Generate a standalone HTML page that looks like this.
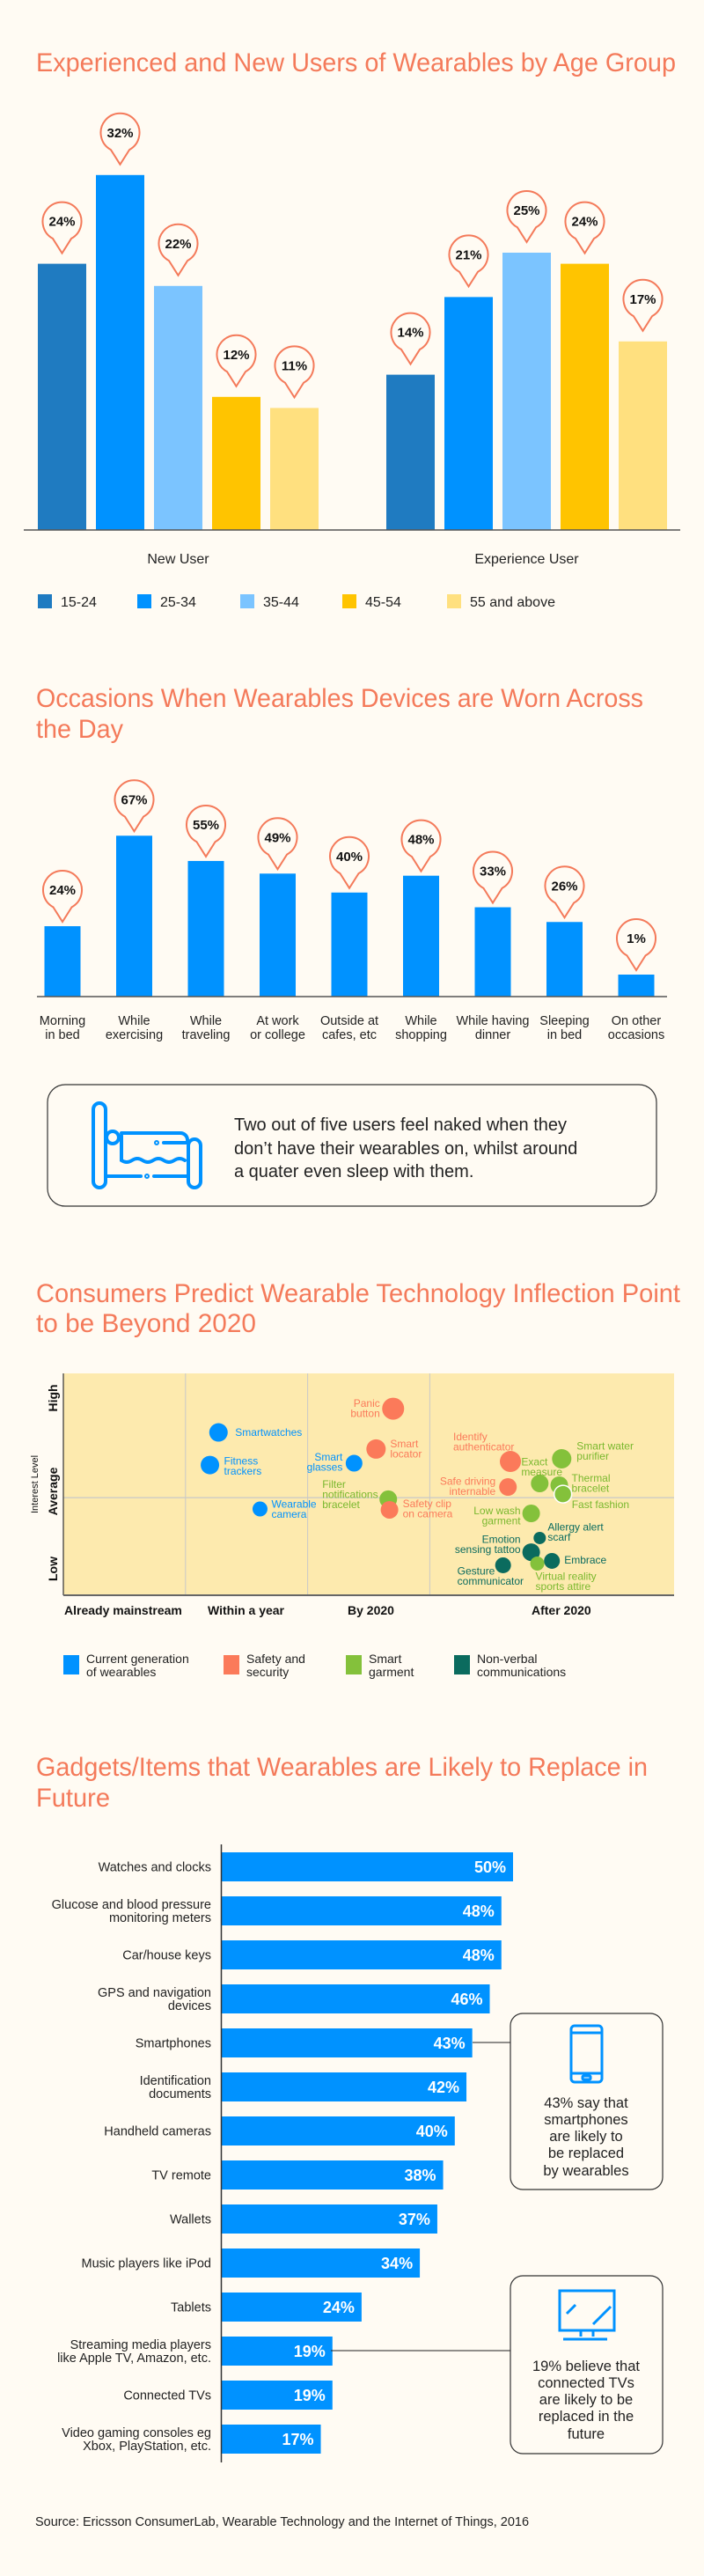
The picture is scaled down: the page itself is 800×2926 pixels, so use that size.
<!DOCTYPE html>
<html><head><meta charset="utf-8"><style>
html,body{margin:0;padding:0;background:#fffbf3;}
svg{display:block;font-family:"Liberation Sans",sans-serif;}
</style></head><body>
<svg id="root" width="800" height="2926" viewBox="0 0 800 2926" xmlns="http://www.w3.org/2000/svg">
<rect x="0" y="0" width="800" height="2926" fill="#fffbf3"/>
<g fill="#f47a5a" font-size="30">
<text x="41" y="81" textLength="727" lengthAdjust="spacingAndGlyphs">Experienced and New Users of Wearables by Age Group</text>
<text x="41" y="803" textLength="690" lengthAdjust="spacingAndGlyphs">Occasions When Wearables Devices are Worn Across</text>
<text x="41" y="838" textLength="99" lengthAdjust="spacingAndGlyphs">the Day</text>
<text x="41" y="1479" textLength="732" lengthAdjust="spacingAndGlyphs">Consumers Predict Wearable Technology Inflection Point</text>
<text x="41" y="1513" textLength="250" lengthAdjust="spacingAndGlyphs">to be Beyond 2020</text>
<text x="41" y="2017" textLength="695" lengthAdjust="spacingAndGlyphs">Gadgets/Items that Wearables are Likely to Replace in</text>
<text x="41" y="2052" textLength="84" lengthAdjust="spacingAndGlyphs">Future</text>
</g>
<g id="c1"></g>
<g id="c2"></g>
<g>
<rect x="54" y="1232" width="692" height="138" rx="20" fill="none" stroke="#333" stroke-width="1.2"/>
<g fill="none" stroke="#0092ff" stroke-width="4" stroke-linecap="round">
<rect x="106" y="1253" width="14" height="96" rx="7"/>
<rect x="214" y="1294" width="14" height="55" rx="7"/>
<circle cx="128" cy="1292" r="7"/>
<path d="M138 1287 H205 a8 8 0 0 1 8 8"/>
<path d="M138 1290 V1318 q6 4 12 0 t12 0 t12 0 t12 0 t12 0 t12 0"/>
<path d="M186 1298 H212"/><circle cx="178" cy="1298" r="1"/>
<path d="M122 1336 H160"/><circle cx="167" cy="1336" r="1"/><path d="M175 1336 H213"/>
</g>
<g font-size="20" fill="#222">
<text x="266" y="1284">Two out of five users feel naked when they</text>
<text x="266" y="1311">don’t have their wearables on, whilst around</text>
<text x="266" y="1337">a quater even sleep with them.</text>
</g>
</g>
<g id="c3"></g>
<g id="c4"></g>
<g>
<line x1="537" y1="2320" x2="580" y2="2320" stroke="#222" stroke-width="1"/>
<rect x="580" y="2287" width="173" height="200" rx="14" fill="none" stroke="#333" stroke-width="1.2"/>
<g fill="none" stroke="#0092ff" stroke-width="3">
<rect x="649" y="2301" width="35" height="64" rx="4"/><line x1="649" y1="2309" x2="684" y2="2309"/><line x1="649" y1="2355" x2="684" y2="2355"/><rect x="662" y="2358" width="9" height="4" rx="1"/>
</g>
<g font-size="16.5" fill="#222" text-anchor="middle">
<text x="666" y="2394">43% say that</text><text x="666" y="2413">smartphones</text><text x="666" y="2432">are likely to</text><text x="666" y="2451">be replaced</text><text x="666" y="2471">by wearables</text>
</g>
</g>
<g>
<line x1="376" y1="2670" x2="580" y2="2670" stroke="#222" stroke-width="1"/>
<rect x="580" y="2585" width="173" height="202" rx="14" fill="none" stroke="#333" stroke-width="1.2"/>
<g fill="none" stroke="#0092ff" stroke-width="3">
<rect x="636" y="2602" width="62" height="45"/><line x1="660" y1="2647" x2="660" y2="2654"/><line x1="674" y1="2647" x2="674" y2="2654"/><line x1="640" y1="2657" x2="690" y2="2657"/>
<line x1="644" y1="2628" x2="654" y2="2618"/><line x1="674" y1="2640" x2="694" y2="2620"/>
</g>
<g font-size="16.5" fill="#222" text-anchor="middle">
<text x="666" y="2693">19% believe that</text><text x="666" y="2712">connected TVs</text><text x="666" y="2731">are likely to be</text><text x="666" y="2750">replaced in the</text><text x="666" y="2770">future</text>
</g>
</g>
<text x="40" y="2869" font-size="14.5" fill="#222">Source: Ericsson ConsumerLab, Wearable Technology and the Internet of Things, 2016</text>
</svg>
<script>
const NS='http://www.w3.org/2000/svg';
function mk(parent,tag,attrs,txt){const e=document.createElementNS(NS,tag);for(const k in attrs)e.setAttribute(k,attrs[k]);if(txt!==undefined)e.textContent=txt;parent.appendChild(e);return e;}

/* ---------- Chart 1 data ---------- */
const c1Groups=['New User','Experience User'];
const c1Ages=['15-24','25-34','35-44','45-54','55 and above'];
const c1New=[24,32,22,12,11];
const c1Exp=[14,21,25,24,17];
const c1Colors=['#1f7bc1','#0092ff','#7bc4ff','#ffc400','#ffe07f'];

/* ---------- Chart 2 data ---------- */
const c2Cats=[['Morning','in bed'],['While','exercising'],['While','traveling'],['At work','or college'],['Outside at','cafes, etc'],['While','shopping'],['While having','dinner'],['Sleeping','in bed'],['On other','occasions']];
const c2Vals=[24,67,55,49,40,48,33,26,1];

/* ---------- Chart 3 data ---------- */
const c3XTicks=['Already mainstream','Within a year','By 2020','After 2020'];
const c3YTicks=['High','Average','Low'];
const c3Groups=['Current generation|of wearables','Safety and|security','Smart|garment','Non-verbal|communications'];
const c3Names=['Smartwatches','Fitness|trackers','Wearable|camera','Smart|glasses','Panic|button','Smart|locator','Filter|notifications|bracelet','Safety clip|on camera','Identify|authenticator','Safe driving|internable','Smart water|purifier','Exact|measure','Thermal|bracelet','Fast fashion','Low wash|garment','Allergy alert|scarf','Emotion|sensing tattoo','Embrace','Virtual reality|sports attire','Gesture|communicator'];
const c3X=[1.27,1.20,1.61,2.38,2.70,2.56,2.66,2.67,3.66,3.64,4.08,3.90,4.06,4.09,3.83,3.90,3.83,4.00,3.88,3.60];
const c3Y=[7.34,5.87,3.89,5.95,8.41,6.59,4.33,3.85,6.03,4.88,6.15,5.04,4.96,4.56,3.69,2.58,1.94,1.55,1.43,1.35];
const c3Group=[0,0,0,0,1,1,2,1,1,1,2,2,2,2,2,3,3,3,2,3];

/* ---------- Chart 4 data ---------- */
const c4Cats=['Watches and clocks','Glucose and blood pressure|monitoring meters','Car/house keys','GPS and navigation|devices','Smartphones','Identification|documents','Handheld cameras','TV remote','Wallets','Music players like iPod','Tablets','Streaming media players|like Apple TV, Amazon, etc.','Connected TVs','Video gaming consoles eg|Xbox, PlayStation, etc.'];
const c4Vals=[50,48,48,46,43,42,40,38,37,34,24,19,19,17];

function pin(g,cx,tipY,label){
  const r=22, cy=tipY-36;
  const a=0.5, x1=cx-r*Math.sin(a), y1=cy+r*Math.cos(a), x2=cx+r*Math.sin(a);
  const p=mk(g,'path',{d:`M${cx} ${tipY} L${x1} ${y1} A${r} ${r} 0 1 1 ${x2} ${y1} Z`,fill:'#fffbf3',stroke:'#f47a5a','stroke-width':2});
  
  
  const t=mk(g,'text',{x:cx,y:cy+5,'text-anchor':'middle','font-size':15,'font-weight':'bold',fill:'#111'},label);
  
  
}

/* Chart 1 */
(function(){
  const g=document.getElementById('c1');
  const base=602, perPct=12.6;
  const yS=v=>base-v*perPct;
  const groupX=[43,439], pitch=66, bw=55;
  [c1New,c1Exp].forEach((vals,gi)=>{
    vals.forEach((v,i)=>{
      const x=groupX[gi]+i*pitch;
      const r=mk(g,'rect',{x:x,y:yS(v),width:bw,height:base-yS(v),fill:c1Colors[i]});
      
      
      pin(g,x+bw/2,yS(v)-12,v+'%');
    });
    const t=mk(g,'text',{x:groupX[gi]+2*pitch+bw/2,y:640,'text-anchor':'middle','font-size':16,fill:'#222'},c1Groups[gi]);
    
    
  });
  const ax=mk(g,'line',{x1:27,y1:base,x2:773,y2:base,stroke:'#555','stroke-width':1.5});
  
  
  const lx=[43,156,273,389,508];
  c1Ages.forEach((a,i)=>{
    const r=mk(g,'rect',{x:lx[i],y:675,width:16,height:16,fill:c1Colors[i]});
    
    
    const t=mk(g,'text',{x:lx[i]+26,y:689,'font-size':16,fill:'#222'},a);
    
    
  });
})();

/* Chart 2 */
(function(){
  const g=document.getElementById('c2');
  const base=1132;
  const yS=v=>base-(22.6+2.39*v);
  const xS=i=>71+i*81.5;
  c2Vals.forEach((v,i)=>{
    const cx=xS(i);
    const r=mk(g,'rect',{x:cx-20.5,y:yS(v),width:41,height:base-yS(v),fill:'#0092ff'});
    
    
    pin(g,cx,yS(v)-5,v+'%');
    c2Cats[i].forEach((l,j)=>{
      const t=mk(g,'text',{x:cx,y:1164+j*16,'text-anchor':'middle','font-size':14.5,fill:'#222'},l);
      
      
    });
  });
  const ax=mk(g,'line',{x1:42,y1:base,x2:758,y2:base,stroke:'#555','stroke-width':1.5});
  
  
})();

/* Chart 3 */
(function(){
  const g=document.getElementById('c3');
  const L=72,R=766,T=1560,B=1812;
  const xS=v=>L+v/5*(R-L);
  const yS=v=>B-v/10*(B-T);
  const colors=['#0092ff','#fb7a5a','#84c13b','#0b6b5e'];
  const textColors=['#0092ff','#fb7a5a','#7ab82e','#0b6b5e'];
  const bg=mk(g,'rect',{x:L,y:T,width:R-L,height:B-T,fill:'#fdeaae'});
  
  
  [1,2,3].forEach(v=>{const l=mk(g,'line',{x1:xS(v),y1:T,x2:xS(v),y2:B,stroke:'#c8c8c8','stroke-width':1});});
  const mid=mk(g,'line',{x1:L,y1:yS(4.4),x2:R,y2:yS(4.4),stroke:'#c8c8c8','stroke-width':1.2});
  
  
  const ya=mk(g,'line',{x1:L,y1:T,x2:L,y2:B,stroke:'#333','stroke-width':1.2});
  
  
  const xa=mk(g,'line',{x1:L,y1:B,x2:R,y2:B,stroke:'#666','stroke-width':2});
  
  
  const xt=[73,236,395,604];
  c3XTicks.forEach((s,i)=>{const t=mk(g,'text',{x:xt[i],y:1834,'font-size':14,'font-weight':'bold',fill:'#111'},s);});
  const yt=[1588,1694,1782];
  c3YTicks.forEach((s,i)=>{const t=mk(g,'text',{x:0,y:0,'font-size':14,'font-weight':'bold',fill:'#111','text-anchor':'middle',transform:`translate(65 ${yt[i]}) rotate(-90)`},s);});
  const yl=mk(g,'text',{x:0,y:0,'font-size':11,fill:'#111','text-anchor':'middle',transform:'translate(43 1686) rotate(-90)'},'Interest  Level');
  
  
  const lay=[[19,0,'start'],[16,-4.5,'start'],[13,-5.7,'start'],[-13,-7.3,'end'],[-15,-6,'end'],[16,-5.7,'start'],[-75,-16.7,'start'],[15,-7,'start'],[-65,-28,'start'],[-14,-6.5,'end'],[17,-14.7,'start'],[-21,-24.5,'start'],[14,-8.2,'start'],[10,12,'start'],[-12,-3,'end'],[9,-12.6,'start'],[-12,-14.7,'end'],[14,-1,'start'],[-2,14.7,'start'],[-52,6.5,'start']];
  const rad=[10.5,10.5,8.5,9.5,12.5,11,10,10,12,10,11,10,10,10,10,7,10,9,8,9];
  c3X.forEach((xv,i)=>{
    const cx=xS(xv), cy=yS(c3Y[i]), gi=c3Group[i];
    const c=mk(g,'circle',{cx:cx,cy:cy,r:rad[i],fill:colors[gi]});
    if(i===13){c.setAttribute('stroke','#fff');c.setAttribute('stroke-width','1.5');}
    
    
    const [dx,dy,anc]=lay[i];
    c3Names[i].split('|').forEach((ln,j)=>{
      const t=mk(g,'text',{x:cx+dx,y:cy+dy+4+j*11.5,'font-size':12,fill:textColors[gi],'text-anchor':anc},ln);
      
      
    });
  });
  const lgx=[72,254,393,516];
  c3Groups.forEach((s,i)=>{
    const r=mk(g,'rect',{x:lgx[i],y:1880,width:18,height:22,fill:colors[i]});
    
    
    s.split('|').forEach((ln,j)=>{const t=mk(g,'text',{x:lgx[i]+26,y:1889+j*15,'font-size':14,fill:'#222'},ln);});
  });
})();

/* Chart 4 */
(function(){
  const g=document.getElementById('c4');
  const x0=252, per=6.62;
  const xS=v=>x0+v*per;
  const yS=i=>2104+i*50;
  c4Vals.forEach((v,i)=>{
    const y=yS(i);
    const r=mk(g,'rect',{x:x0,y:y,width:xS(v)-x0,height:33,fill:'#0092ff'});
    
    
    const t=mk(g,'text',{x:xS(v)-8,y:y+23,'text-anchor':'end','font-size':18,'font-weight':'bold',fill:'#fff'},v+'%');
    
    
    const lines=c4Cats[i].split('|');
    lines.forEach((ln,j)=>{
      const yy=y+16.5+5+(j-(lines.length-1)/2)*15;
      const c=mk(g,'text',{x:240,y:yy,'text-anchor':'end','font-size':14.5,fill:'#222'},ln);
      
      
    });
  });
  const ax=mk(g,'line',{x1:251.5,y1:2095,x2:251.5,y2:2797,stroke:'#333','stroke-width':1.5});
  
  
})();
</script>
</body></html>
